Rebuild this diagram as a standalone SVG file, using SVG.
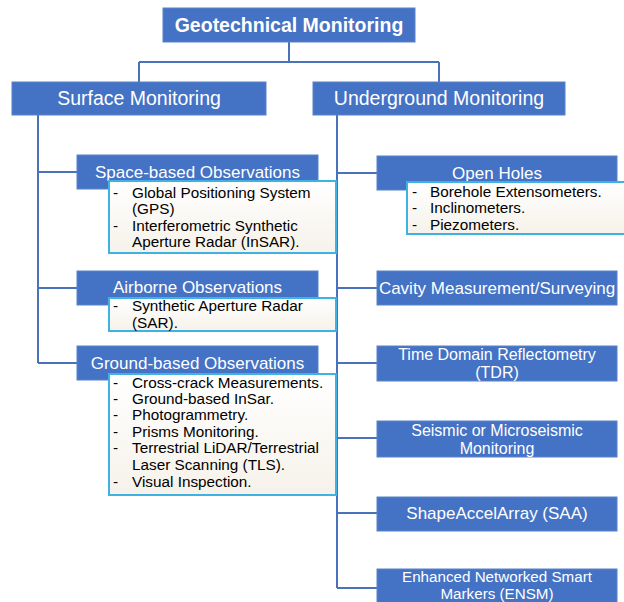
<svg xmlns="http://www.w3.org/2000/svg" width="624" height="602" viewBox="0 0 624 602">
<defs>
<linearGradient id="cream" x1="0" y1="0" x2="0" y2="1">
<stop offset="0" stop-color="#FFFFFF"/>
<stop offset="1" stop-color="#F6F2EA"/>
</linearGradient>
</defs>
<style>
.blue{fill:#4472C4;stroke:#5A82C8;stroke-width:1}
.list{fill:url(#cream);stroke:#3FB2E4;stroke-width:2}
.conn{fill:none;stroke:#4A72BA;stroke-width:2}
.h1{font-family:"Liberation Sans",Arial,sans-serif;font-weight:bold;font-size:19.5px;fill:#fff;text-anchor:middle}
.h2{font-family:"Liberation Sans",Arial,sans-serif;font-size:19.5px;fill:#fff;text-anchor:middle}
.h3{font-family:"Liberation Sans",Arial,sans-serif;font-size:17px;fill:#fff;text-anchor:middle}
.h4{font-family:"Liberation Sans",Arial,sans-serif;font-size:16px;fill:#fff;text-anchor:middle}
.h5{font-family:"Liberation Sans",Arial,sans-serif;font-size:15.2px;fill:#fff;text-anchor:middle}
.li{font-family:"Liberation Sans",Arial,sans-serif;font-size:15.3px;fill:#000}
</style>
<rect width="624" height="602" fill="#fff"/>
<g id="connectors">
<path class="conn" d="M289 42V62M139 62H439M139 62V82M439 62V82"/>
<path class="conn" d="M38 115V363M38 172H77M38 288H77M38 363H77"/>
<path class="conn" d="M337 115V588M337 173H377M337 288H377M337 363H377M337 438H377M337 513H377M337 588H377"/>
</g>
<g id="geotechnical">
<rect class="blue" x="163" y="8" width="252" height="34"/>
<text class="h1" x="289" y="32">Geotechnical Monitoring</text>
</g>
<g id="surface">
<rect class="blue" x="12" y="82" width="254" height="33"/>
<text class="h2" x="139" y="105">Surface Monitoring</text>
</g>
<g id="underground">
<rect class="blue" x="313" y="82" width="252" height="33"/>
<text class="h2" x="439" y="105">Underground Monitoring</text>
</g>
<g id="space">
<rect class="blue" x="77" y="155" width="241" height="34"/>
<text class="h3" x="197.5" y="178">Space-based Observations</text>
<rect class="list" x="109" y="181" width="227" height="72"/>
<text class="li"><tspan x="113" y="198">-</tspan><tspan x="132" y="198">Global Positioning System</tspan><tspan x="132" y="214">(GPS)</tspan><tspan x="113" y="231">-</tspan><tspan x="132" y="231">Interferometric Synthetic</tspan><tspan x="132" y="247">Aperture Radar (InSAR).</tspan></text>
</g>
<g id="airborne">
<rect class="blue" x="77" y="271" width="241" height="34"/>
<text class="h3" x="197.5" y="293">Airborne Observations</text>
<rect class="list" x="109" y="298" width="227" height="33"/>
<text class="li"><tspan x="113" y="311">-</tspan><tspan x="132" y="311">Synthetic Aperture Radar</tspan><tspan x="132" y="327.5">(SAR).</tspan></text>
</g>
<g id="ground">
<rect class="blue" x="77" y="346" width="241" height="34"/>
<text class="h3" x="197.5" y="369">Ground-based Observations</text>
<rect class="list" x="109" y="374" width="227" height="121"/>
<text class="li"><tspan x="113" y="388">-</tspan><tspan x="132" y="388">Cross-crack Measurements.</tspan><tspan x="113" y="404">-</tspan><tspan x="132" y="404">Ground-based InSar.</tspan><tspan x="113" y="420">-</tspan><tspan x="132" y="420">Photogrammetry.</tspan><tspan x="113" y="437">-</tspan><tspan x="132" y="437">Prisms Monitoring.</tspan><tspan x="113" y="453">-</tspan><tspan x="132" y="453">Terrestrial LiDAR/Terrestrial</tspan><tspan x="132" y="470">Laser Scanning (TLS).</tspan><tspan x="113" y="487">-</tspan><tspan x="132" y="487">Visual Inspection.</tspan></text>
</g>
<g id="openholes">
<rect class="blue" x="377" y="156" width="240" height="34"/>
<text class="h3" x="497" y="179">Open Holes</text>
<rect class="list" x="407" y="182" width="230" height="52"/>
<text class="li"><tspan x="412" y="197">-</tspan><tspan x="430" y="197">Borehole Extensometers.</tspan><tspan x="412" y="213">-</tspan><tspan x="430" y="213">Inclinometers.</tspan><tspan x="412" y="230">-</tspan><tspan x="430" y="230">Piezometers.</tspan></text>
</g>
<g id="cavity">
<rect class="blue" x="377" y="271" width="240" height="34"/>
<text class="h3" x="497" y="294">Cavity Measurement/Surveying</text>
</g>
<g id="tdr">
<rect class="blue" x="377" y="346" width="240" height="35"/>
<text class="h4"><tspan x="497" y="360">Time Domain Reflectometry</tspan><tspan x="497" y="378">(TDR)</tspan></text>
</g>
<g id="seismic">
<rect class="blue" x="377" y="421" width="240" height="36"/>
<text class="h4"><tspan x="497" y="435.5">Seismic or Microseismic</tspan><tspan x="497" y="453.5">Monitoring</tspan></text>
</g>
<g id="saa">
<rect class="blue" x="377" y="497" width="240" height="34"/>
<text class="h3" x="497" y="519">ShapeAccelArray (SAA)</text>
</g>
<g id="ensm">
<rect class="blue" x="377" y="569" width="240" height="40"/>
<text class="h5"><tspan x="497" y="581.5">Enhanced Networked Smart</tspan><tspan x="497" y="598.5">Markers (ENSM)</tspan></text>
</g>
</svg>
